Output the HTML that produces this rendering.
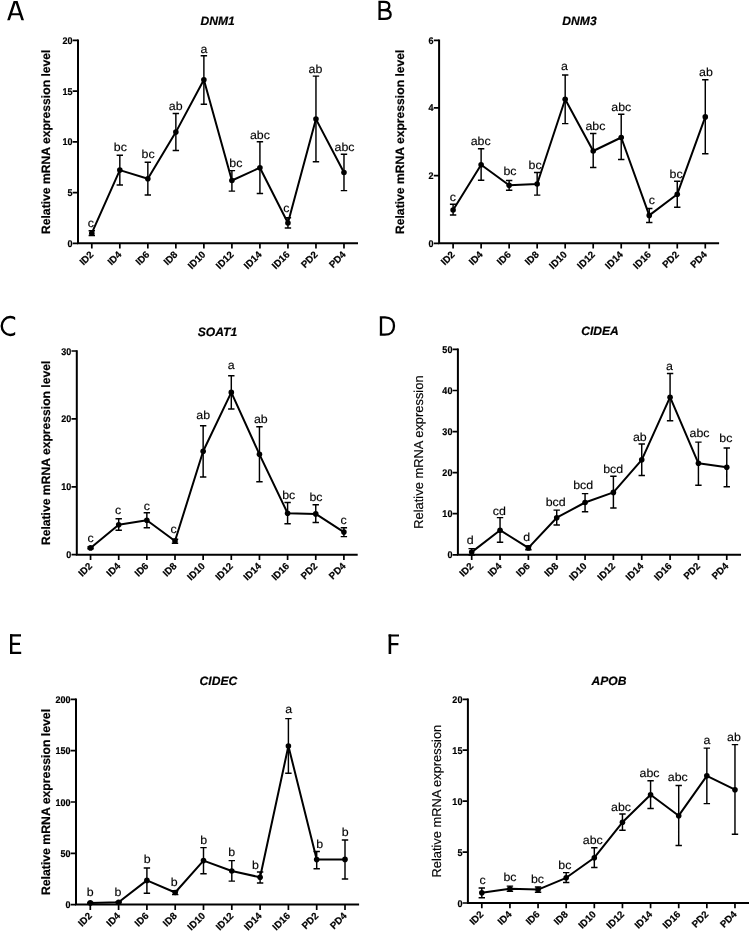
<!DOCTYPE html>
<html lang="en">
<head>
<meta charset="utf-8">
<title>Relative mRNA expression</title>
<style>
html,body{margin:0;padding:0;background:#fff;}
body{width:750px;height:931px;overflow:hidden;font-family:"Liberation Sans",sans-serif;}
svg{display:block;will-change:transform;text-rendering:geometricPrecision;}
</style>
</head>
<body>
<svg width="750" height="931" viewBox="0 0 750 931" font-family="'Liberation Sans', sans-serif" fill="#000">
<g id="panel-A">
<clipPath id="clA"><rect x="5" y="1" width="22" height="19.2"/></clipPath><g clip-path="url(#clA)" fill="none" stroke="#000"><polyline points="8.2,21.2 15.6,-1 23,21.2" stroke-width="2.5" stroke-linejoin="miter" stroke-miterlimit="10"/><path d="M11 14.2H20.2" stroke-width="2"/></g>
<path d="M78 39.45 V243.3 H358" fill="none" stroke="#000" stroke-width="2" stroke-linejoin="miter"/>
<text transform="translate(72.5 246.8) scale(0.93 1)" font-size="9.7" font-weight="bold" text-anchor="end" stroke="#000" stroke-width="0.2">0</text>
<text transform="translate(72.5 196.05) scale(0.93 1)" font-size="9.7" font-weight="bold" text-anchor="end" stroke="#000" stroke-width="0.2">5</text>
<text transform="translate(72.5 145.3) scale(0.93 1)" font-size="9.7" font-weight="bold" text-anchor="end" stroke="#000" stroke-width="0.2">10</text>
<text transform="translate(72.5 94.55) scale(0.93 1)" font-size="9.7" font-weight="bold" text-anchor="end" stroke="#000" stroke-width="0.2">15</text>
<text transform="translate(72.5 43.8) scale(0.93 1)" font-size="9.7" font-weight="bold" text-anchor="end" stroke="#000" stroke-width="0.2">20</text>
<text transform="translate(94.1 255.2) rotate(-45)" font-size="9.7" font-weight="bold" text-anchor="end" stroke="#000" stroke-width="0.2">ID2</text>
<text transform="translate(122.12 255.2) rotate(-45)" font-size="9.7" font-weight="bold" text-anchor="end" stroke="#000" stroke-width="0.2">ID4</text>
<text transform="translate(150.14 255.2) rotate(-45)" font-size="9.7" font-weight="bold" text-anchor="end" stroke="#000" stroke-width="0.2">ID6</text>
<text transform="translate(178.16 255.2) rotate(-45)" font-size="9.7" font-weight="bold" text-anchor="end" stroke="#000" stroke-width="0.2">ID8</text>
<text transform="translate(206.18 255.2) rotate(-45)" font-size="9.7" font-weight="bold" text-anchor="end" stroke="#000" stroke-width="0.2">ID10</text>
<text transform="translate(234.2 255.2) rotate(-45)" font-size="9.7" font-weight="bold" text-anchor="end" stroke="#000" stroke-width="0.2">ID12</text>
<text transform="translate(262.22 255.2) rotate(-45)" font-size="9.7" font-weight="bold" text-anchor="end" stroke="#000" stroke-width="0.2">ID14</text>
<text transform="translate(290.24 255.2) rotate(-45)" font-size="9.7" font-weight="bold" text-anchor="end" stroke="#000" stroke-width="0.2">ID16</text>
<text transform="translate(318.26 255.2) rotate(-45)" font-size="9.7" font-weight="bold" text-anchor="end" stroke="#000" stroke-width="0.2">PD2</text>
<text transform="translate(346.28 255.2) rotate(-45)" font-size="9.7" font-weight="bold" text-anchor="end" stroke="#000" stroke-width="0.2">PD4</text>
<path d="M78 243.3H72.7M78 192.55H72.7M78 141.8H72.7M78 91.05H72.7M78 40.3H72.7M91.8 243.3V248.6M119.82 243.3V248.6M147.84 243.3V248.6M175.86 243.3V248.6M203.88 243.3V248.6M231.9 243.3V248.6M259.92 243.3V248.6M287.94 243.3V248.6M315.96 243.3V248.6M343.98 243.3V248.6" fill="none" stroke="#000" stroke-width="1.7"/>
<text transform="translate(50.4 141.8) rotate(-90)" font-size="12.15" font-weight="bold" text-anchor="middle" stroke="#000" stroke-width="0.2">Relative mRNA expression level</text>
<text x="217.6" y="25.2" font-size="12.1" font-weight="bold" font-style="italic" text-anchor="middle" stroke="#000" stroke-width="0.2">DNM1</text>
<path d="M91.8 230.8V235.5M88.6 230.8H95M88.6 235.5H95M119.82 155.2V185M116.62 155.2H123.02M116.62 185H123.02M147.84 162.3V194.9M144.64 162.3H151.04M144.64 194.9H151.04M175.86 113.4V150.5M172.66 113.4H179.06M172.66 150.5H179.06M203.88 55.7V104.2M200.68 55.7H207.08M200.68 104.2H207.08M231.9 170.6V191.1M228.7 170.6H235.1M228.7 191.1H235.1M259.92 141.7V193.5M256.72 141.7H263.12M256.72 193.5H263.12M287.94 217.8V228M284.74 217.8H291.14M284.74 228H291.14M315.96 76.1V161.8M312.76 76.1H319.16M312.76 161.8H319.16M343.98 154.3V190.6M340.78 154.3H347.18M340.78 190.6H347.18" fill="none" stroke="#000" stroke-width="1.45"/>
<polyline points="91.8,233.2 119.82,170.1 147.84,178.8 175.86,132.1 203.88,79.8 231.9,180.5 259.92,167.7 287.94,223 315.96,119.1 343.98,172.5" fill="none" stroke="#000" stroke-width="2" stroke-linejoin="round"/>
<circle cx="91.8" cy="233.2" r="2.8"/>
<text transform="translate(90.9 226.6) scale(1.05 1)" font-size="11.8" text-anchor="middle" stroke="#000" stroke-width="0.15">c</text>
<circle cx="119.82" cy="170.1" r="2.8"/>
<text transform="translate(120.32 151.2) scale(1.05 1)" font-size="11.8" text-anchor="middle" stroke="#000" stroke-width="0.15">bc</text>
<circle cx="147.84" cy="178.8" r="2.8"/>
<text transform="translate(148.14 158.3) scale(1.05 1)" font-size="11.8" text-anchor="middle" stroke="#000" stroke-width="0.15">bc</text>
<circle cx="175.86" cy="132.1" r="2.8"/>
<text transform="translate(175.66 109.6) scale(1.05 1)" font-size="11.8" text-anchor="middle" stroke="#000" stroke-width="0.15">ab</text>
<circle cx="203.88" cy="79.8" r="2.8"/>
<text transform="translate(203.88 52.9) scale(1.05 1)" font-size="11.8" text-anchor="middle" stroke="#000" stroke-width="0.15">a</text>
<circle cx="231.9" cy="180.5" r="2.8"/>
<text transform="translate(235.9 167) scale(1.05 1)" font-size="11.8" text-anchor="middle" stroke="#000" stroke-width="0.15">bc</text>
<circle cx="259.92" cy="167.7" r="2.8"/>
<text transform="translate(259.92 138.7) scale(1.05 1)" font-size="11.8" text-anchor="middle" stroke="#000" stroke-width="0.15">abc</text>
<circle cx="287.94" cy="223" r="2.8"/>
<text transform="translate(286.24 212.4) scale(1.05 1)" font-size="11.8" text-anchor="middle" stroke="#000" stroke-width="0.15">c</text>
<circle cx="315.96" cy="119.1" r="2.8"/>
<text transform="translate(315.46 73) scale(1.05 1)" font-size="11.8" text-anchor="middle" stroke="#000" stroke-width="0.15">ab</text>
<circle cx="343.98" cy="172.5" r="2.8"/>
<text transform="translate(344.58 151) scale(1.05 1)" font-size="11.8" text-anchor="middle" stroke="#000" stroke-width="0.15">abc</text>
</g>
<g id="panel-B">
<path d="M379.6 0.8V20M378.4 1.9H384C387.3 1.9 389.3 3.4 389.3 5.8C389.3 8.4 387.2 10.2 383.8 10.2H379.6M383.8 10.2C388.2 10.2 390.65 11.9 390.65 14.5C390.65 17.3 388.4 18.9 384.4 18.9H378.4" fill="none" stroke="#000" stroke-width="2.3"/>
<path d="M439.1 39.45 V243.3 H719.1" fill="none" stroke="#000" stroke-width="2" stroke-linejoin="miter"/>
<text transform="translate(433.6 246.8) scale(0.93 1)" font-size="9.7" font-weight="bold" text-anchor="end" stroke="#000" stroke-width="0.2">0</text>
<text transform="translate(433.6 179.13) scale(0.93 1)" font-size="9.7" font-weight="bold" text-anchor="end" stroke="#000" stroke-width="0.2">2</text>
<text transform="translate(433.6 111.47) scale(0.93 1)" font-size="9.7" font-weight="bold" text-anchor="end" stroke="#000" stroke-width="0.2">4</text>
<text transform="translate(433.6 43.8) scale(0.93 1)" font-size="9.7" font-weight="bold" text-anchor="end" stroke="#000" stroke-width="0.2">6</text>
<text transform="translate(455.4 255.2) rotate(-45)" font-size="9.7" font-weight="bold" text-anchor="end" stroke="#000" stroke-width="0.2">ID2</text>
<text transform="translate(483.42 255.2) rotate(-45)" font-size="9.7" font-weight="bold" text-anchor="end" stroke="#000" stroke-width="0.2">ID4</text>
<text transform="translate(511.44 255.2) rotate(-45)" font-size="9.7" font-weight="bold" text-anchor="end" stroke="#000" stroke-width="0.2">ID6</text>
<text transform="translate(539.46 255.2) rotate(-45)" font-size="9.7" font-weight="bold" text-anchor="end" stroke="#000" stroke-width="0.2">ID8</text>
<text transform="translate(567.48 255.2) rotate(-45)" font-size="9.7" font-weight="bold" text-anchor="end" stroke="#000" stroke-width="0.2">ID10</text>
<text transform="translate(595.5 255.2) rotate(-45)" font-size="9.7" font-weight="bold" text-anchor="end" stroke="#000" stroke-width="0.2">ID12</text>
<text transform="translate(623.52 255.2) rotate(-45)" font-size="9.7" font-weight="bold" text-anchor="end" stroke="#000" stroke-width="0.2">ID14</text>
<text transform="translate(651.54 255.2) rotate(-45)" font-size="9.7" font-weight="bold" text-anchor="end" stroke="#000" stroke-width="0.2">ID16</text>
<text transform="translate(679.56 255.2) rotate(-45)" font-size="9.7" font-weight="bold" text-anchor="end" stroke="#000" stroke-width="0.2">PD2</text>
<text transform="translate(707.58 255.2) rotate(-45)" font-size="9.7" font-weight="bold" text-anchor="end" stroke="#000" stroke-width="0.2">PD4</text>
<path d="M439.1 243.3H433.8M439.1 175.63H433.8M439.1 107.97H433.8M439.1 40.3H433.8M453.1 243.3V248.6M481.12 243.3V248.6M509.14 243.3V248.6M537.16 243.3V248.6M565.18 243.3V248.6M593.2 243.3V248.6M621.22 243.3V248.6M649.24 243.3V248.6M677.26 243.3V248.6M705.28 243.3V248.6" fill="none" stroke="#000" stroke-width="1.7"/>
<text transform="translate(404 141.8) rotate(-90)" font-size="12.15" font-weight="bold" text-anchor="middle" stroke="#000" stroke-width="0.2">Relative mRNA expression level</text>
<text x="579.5" y="25.2" font-size="12.1" font-weight="bold" font-style="italic" text-anchor="middle" stroke="#000" stroke-width="0.2">DNM3</text>
<path d="M453.1 204.3V215M449.9 204.3H456.3M449.9 215H456.3M481.12 148.8V180.2M477.92 148.8H484.32M477.92 180.2H484.32M509.14 180.5V190.2M505.94 180.5H512.34M505.94 190.2H512.34M537.16 172.5V195.1M533.96 172.5H540.36M533.96 195.1H540.36M565.18 74.9V123.6M561.98 74.9H568.38M561.98 123.6H568.38M593.2 133.5V167.5M590 133.5H596.4M590 167.5H596.4M621.22 114.3V159.5M618.02 114.3H624.42M618.02 159.5H624.42M649.24 208.4V222.5M646.04 208.4H652.44M646.04 222.5H652.44M677.26 181.2V207.2M674.06 181.2H680.46M674.06 207.2H680.46M705.28 79.8V153.8M702.08 79.8H708.48M702.08 153.8H708.48" fill="none" stroke="#000" stroke-width="1.45"/>
<polyline points="453.1,210 481.12,164.7 509.14,185.2 537.16,184 565.18,99.2 593.2,151 621.22,137.5 649.24,215.4 677.26,194.2 705.28,116.9" fill="none" stroke="#000" stroke-width="2" stroke-linejoin="round"/>
<circle cx="453.1" cy="210" r="2.8"/>
<text transform="translate(452.8 200.6) scale(1.05 1)" font-size="11.8" text-anchor="middle" stroke="#000" stroke-width="0.15">c</text>
<circle cx="481.12" cy="164.7" r="2.8"/>
<text transform="translate(480.72 145.3) scale(1.05 1)" font-size="11.8" text-anchor="middle" stroke="#000" stroke-width="0.15">abc</text>
<circle cx="509.14" cy="185.2" r="2.8"/>
<text transform="translate(509.94 174.6) scale(1.05 1)" font-size="11.8" text-anchor="middle" stroke="#000" stroke-width="0.15">bc</text>
<circle cx="537.16" cy="184" r="2.8"/>
<text transform="translate(535.06 168.9) scale(1.05 1)" font-size="11.8" text-anchor="middle" stroke="#000" stroke-width="0.15">bc</text>
<circle cx="565.18" cy="99.2" r="2.8"/>
<text transform="translate(564.48 69.5) scale(1.05 1)" font-size="11.8" text-anchor="middle" stroke="#000" stroke-width="0.15">a</text>
<circle cx="593.2" cy="151" r="2.8"/>
<text transform="translate(595.4 130.4) scale(1.05 1)" font-size="11.8" text-anchor="middle" stroke="#000" stroke-width="0.15">abc</text>
<circle cx="621.22" cy="137.5" r="2.8"/>
<text transform="translate(621.32 110.8) scale(1.05 1)" font-size="11.8" text-anchor="middle" stroke="#000" stroke-width="0.15">abc</text>
<circle cx="649.24" cy="215.4" r="2.8"/>
<text transform="translate(651.84 204.1) scale(1.05 1)" font-size="11.8" text-anchor="middle" stroke="#000" stroke-width="0.15">c</text>
<circle cx="677.26" cy="194.2" r="2.8"/>
<text transform="translate(676.06 177.6) scale(1.05 1)" font-size="11.8" text-anchor="middle" stroke="#000" stroke-width="0.15">bc</text>
<circle cx="705.28" cy="116.9" r="2.8"/>
<text transform="translate(705.88 75.6) scale(1.05 1)" font-size="11.8" text-anchor="middle" stroke="#000" stroke-width="0.15">ab</text>
</g>
<g id="panel-C">
<clipPath id="clC"><rect x="0" y="314" width="15.2" height="24"/></clipPath><path clip-path="url(#clC)" d="M16.2 319.4A8.6 9 0 1 0 16.2 332.6" fill="none" stroke="#000" stroke-width="2.4"/>
<path d="M76.8 350.15 V554.7 H357.7" fill="none" stroke="#000" stroke-width="2" stroke-linejoin="miter"/>
<text transform="translate(71.3 558.2) scale(0.93 1)" font-size="9.7" font-weight="bold" text-anchor="end" stroke="#000" stroke-width="0.2">0</text>
<text transform="translate(71.3 490.3) scale(0.93 1)" font-size="9.7" font-weight="bold" text-anchor="end" stroke="#000" stroke-width="0.2">10</text>
<text transform="translate(71.3 422.4) scale(0.93 1)" font-size="9.7" font-weight="bold" text-anchor="end" stroke="#000" stroke-width="0.2">20</text>
<text transform="translate(71.3 354.5) scale(0.93 1)" font-size="9.7" font-weight="bold" text-anchor="end" stroke="#000" stroke-width="0.2">30</text>
<text transform="translate(92.85 566.6) rotate(-45)" font-size="9.7" font-weight="bold" text-anchor="end" stroke="#000" stroke-width="0.2">ID2</text>
<text transform="translate(121 566.6) rotate(-45)" font-size="9.7" font-weight="bold" text-anchor="end" stroke="#000" stroke-width="0.2">ID4</text>
<text transform="translate(149.15 566.6) rotate(-45)" font-size="9.7" font-weight="bold" text-anchor="end" stroke="#000" stroke-width="0.2">ID6</text>
<text transform="translate(177.3 566.6) rotate(-45)" font-size="9.7" font-weight="bold" text-anchor="end" stroke="#000" stroke-width="0.2">ID8</text>
<text transform="translate(205.45 566.6) rotate(-45)" font-size="9.7" font-weight="bold" text-anchor="end" stroke="#000" stroke-width="0.2">ID10</text>
<text transform="translate(233.6 566.6) rotate(-45)" font-size="9.7" font-weight="bold" text-anchor="end" stroke="#000" stroke-width="0.2">ID12</text>
<text transform="translate(261.75 566.6) rotate(-45)" font-size="9.7" font-weight="bold" text-anchor="end" stroke="#000" stroke-width="0.2">ID14</text>
<text transform="translate(289.9 566.6) rotate(-45)" font-size="9.7" font-weight="bold" text-anchor="end" stroke="#000" stroke-width="0.2">ID16</text>
<text transform="translate(318.05 566.6) rotate(-45)" font-size="9.7" font-weight="bold" text-anchor="end" stroke="#000" stroke-width="0.2">PD2</text>
<text transform="translate(346.2 566.6) rotate(-45)" font-size="9.7" font-weight="bold" text-anchor="end" stroke="#000" stroke-width="0.2">PD4</text>
<path d="M76.8 554.7H71.5M76.8 486.8H71.5M76.8 418.9H71.5M76.8 351H71.5M90.55 554.7V560M118.7 554.7V560M146.85 554.7V560M175 554.7V560M203.15 554.7V560M231.3 554.7V560M259.45 554.7V560M287.6 554.7V560M315.75 554.7V560M343.9 554.7V560" fill="none" stroke="#000" stroke-width="1.7"/>
<text transform="translate(50.4 452.85) rotate(-90)" font-size="12.15" font-weight="bold" text-anchor="middle" stroke="#000" stroke-width="0.2">Relative mRNA expression level</text>
<text x="217.5" y="336.3" font-size="12.1" font-weight="bold" font-style="italic" text-anchor="middle" stroke="#000" stroke-width="0.2">SOAT1</text>
<path d="M90.55 547V548.8M87.35 547H93.75M87.35 548.8H93.75M118.7 518.8V530.2M115.5 518.8H121.9M115.5 530.2H121.9M146.85 512.7V527.8M143.65 512.7H150.05M143.65 527.8H150.05M175 539.2V543.2M171.8 539.2H178.2M171.8 543.2H178.2M203.15 425.8V477M199.95 425.8H206.35M199.95 477H206.35M231.3 375.7V409M228.1 375.7H234.5M228.1 409H234.5M259.45 426.7V481.7M256.25 426.7H262.65M256.25 481.7H262.65M287.6 502.5V523.8M284.4 502.5H290.8M284.4 523.8H290.8M315.75 504.7V522.4M312.55 504.7H318.95M312.55 522.4H318.95M343.9 527.8V536.6M340.7 527.8H347.1M340.7 536.6H347.1" fill="none" stroke="#000" stroke-width="1.45"/>
<polyline points="90.55,547.9 118.7,524.7 146.85,520.3 175,541 203.15,451.3 231.3,392.4 259.45,454.3 287.6,513.2 315.75,513.9 343.9,532.1" fill="none" stroke="#000" stroke-width="2" stroke-linejoin="round"/>
<circle cx="90.55" cy="547.9" r="2.8"/>
<text transform="translate(90.55 542) scale(1.05 1)" font-size="11.8" text-anchor="middle" stroke="#000" stroke-width="0.15">c</text>
<circle cx="118.7" cy="524.7" r="2.8"/>
<text transform="translate(118.2 514.3) scale(1.05 1)" font-size="11.8" text-anchor="middle" stroke="#000" stroke-width="0.15">c</text>
<circle cx="146.85" cy="520.3" r="2.8"/>
<text transform="translate(146.85 510.1) scale(1.05 1)" font-size="11.8" text-anchor="middle" stroke="#000" stroke-width="0.15">c</text>
<circle cx="175" cy="541" r="2.8"/>
<text transform="translate(173.5 533) scale(1.05 1)" font-size="11.8" text-anchor="middle" stroke="#000" stroke-width="0.15">c</text>
<circle cx="203.15" cy="451.3" r="2.8"/>
<text transform="translate(203.15 418.7) scale(1.05 1)" font-size="11.8" text-anchor="middle" stroke="#000" stroke-width="0.15">ab</text>
<circle cx="231.3" cy="392.4" r="2.8"/>
<text transform="translate(231.3 368.8) scale(1.05 1)" font-size="11.8" text-anchor="middle" stroke="#000" stroke-width="0.15">a</text>
<circle cx="259.45" cy="454.3" r="2.8"/>
<text transform="translate(260.85 422.7) scale(1.05 1)" font-size="11.8" text-anchor="middle" stroke="#000" stroke-width="0.15">ab</text>
<circle cx="287.6" cy="513.2" r="2.8"/>
<text transform="translate(288.7 498.8) scale(1.05 1)" font-size="11.8" text-anchor="middle" stroke="#000" stroke-width="0.15">bc</text>
<circle cx="315.75" cy="513.9" r="2.8"/>
<text transform="translate(315.95 501.1) scale(1.05 1)" font-size="11.8" text-anchor="middle" stroke="#000" stroke-width="0.15">bc</text>
<circle cx="343.9" cy="532.1" r="2.8"/>
<text transform="translate(343.7 524.3) scale(1.05 1)" font-size="11.8" text-anchor="middle" stroke="#000" stroke-width="0.15">c</text>
</g>
<g id="panel-D">
<path d="M381 316.2V335.8M379.8 317.3H385C390.6 317.3 394 320.6 394 325.9C394 331.4 390.6 334.7 384.8 334.7H379.8" fill="none" stroke="#000" stroke-width="2.3"/>
<path d="M457.9 348.55 V554.8 H741" fill="none" stroke="#000" stroke-width="2" stroke-linejoin="miter"/>
<text transform="translate(452.4 558.3) scale(0.93 1)" font-size="9.7" font-weight="bold" text-anchor="end" stroke="#000" stroke-width="0.2">0</text>
<text transform="translate(452.4 517.22) scale(0.93 1)" font-size="9.7" font-weight="bold" text-anchor="end" stroke="#000" stroke-width="0.2">10</text>
<text transform="translate(452.4 476.14) scale(0.93 1)" font-size="9.7" font-weight="bold" text-anchor="end" stroke="#000" stroke-width="0.2">20</text>
<text transform="translate(452.4 435.06) scale(0.93 1)" font-size="9.7" font-weight="bold" text-anchor="end" stroke="#000" stroke-width="0.2">30</text>
<text transform="translate(452.4 393.98) scale(0.93 1)" font-size="9.7" font-weight="bold" text-anchor="end" stroke="#000" stroke-width="0.2">40</text>
<text transform="translate(452.4 352.9) scale(0.93 1)" font-size="9.7" font-weight="bold" text-anchor="end" stroke="#000" stroke-width="0.2">50</text>
<text transform="translate(474 566.7) rotate(-45)" font-size="9.7" font-weight="bold" text-anchor="end" stroke="#000" stroke-width="0.2">ID2</text>
<text transform="translate(502.34 566.7) rotate(-45)" font-size="9.7" font-weight="bold" text-anchor="end" stroke="#000" stroke-width="0.2">ID4</text>
<text transform="translate(530.68 566.7) rotate(-45)" font-size="9.7" font-weight="bold" text-anchor="end" stroke="#000" stroke-width="0.2">ID6</text>
<text transform="translate(559.02 566.7) rotate(-45)" font-size="9.7" font-weight="bold" text-anchor="end" stroke="#000" stroke-width="0.2">ID8</text>
<text transform="translate(587.36 566.7) rotate(-45)" font-size="9.7" font-weight="bold" text-anchor="end" stroke="#000" stroke-width="0.2">ID10</text>
<text transform="translate(615.7 566.7) rotate(-45)" font-size="9.7" font-weight="bold" text-anchor="end" stroke="#000" stroke-width="0.2">ID12</text>
<text transform="translate(644.04 566.7) rotate(-45)" font-size="9.7" font-weight="bold" text-anchor="end" stroke="#000" stroke-width="0.2">ID14</text>
<text transform="translate(672.38 566.7) rotate(-45)" font-size="9.7" font-weight="bold" text-anchor="end" stroke="#000" stroke-width="0.2">ID16</text>
<text transform="translate(700.72 566.7) rotate(-45)" font-size="9.7" font-weight="bold" text-anchor="end" stroke="#000" stroke-width="0.2">PD2</text>
<text transform="translate(729.06 566.7) rotate(-45)" font-size="9.7" font-weight="bold" text-anchor="end" stroke="#000" stroke-width="0.2">PD4</text>
<path d="M457.9 554.8H452.6M457.9 513.72H452.6M457.9 472.64H452.6M457.9 431.56H452.6M457.9 390.48H452.6M457.9 349.4H452.6M471.7 554.8V560.1M500.04 554.8V560.1M528.38 554.8V560.1M556.72 554.8V560.1M585.06 554.8V560.1M613.4 554.8V560.1M641.74 554.8V560.1M670.08 554.8V560.1M698.42 554.8V560.1M726.76 554.8V560.1" fill="none" stroke="#000" stroke-width="1.7"/>
<text transform="translate(423.1 452.1) rotate(-90)" font-size="12.9" text-anchor="middle" stroke="#000" stroke-width="0.15">Relative mRNA expression</text>
<text x="600" y="334.7" font-size="12.1" font-weight="bold" font-style="italic" text-anchor="middle" stroke="#000" stroke-width="0.2">CIDEA</text>
<path d="M471.7 548.6V555M468.5 548.6H474.9M468.5 555H474.9M500.04 517.6V542.2M496.84 517.6H503.24M496.84 542.2H503.24M528.38 546V549.8M525.18 546H531.58M525.18 549.8H531.58M556.72 510.1V525M553.52 510.1H559.92M553.52 525H559.92M585.06 493.6V511.7M581.86 493.6H588.26M581.86 511.7H588.26M613.4 476.3V508M610.2 476.3H616.6M610.2 508H616.6M641.74 443.9V475.4M638.54 443.9H644.94M638.54 475.4H644.94M670.08 373.5V420.8M666.88 373.5H673.28M666.88 420.8H673.28M698.42 442.1V485.3M695.22 442.1H701.62M695.22 485.3H701.62M726.76 448V486.7M723.56 448H729.96M723.56 486.7H729.96" fill="none" stroke="#000" stroke-width="1.45"/>
<polyline points="471.7,552.1 500.04,530.2 528.38,547.9 556.72,517.7 585.06,502.5 613.4,492.4 641.74,459.8 670.08,397.2 698.42,463.3 726.76,467.3" fill="none" stroke="#000" stroke-width="2" stroke-linejoin="round"/>
<circle cx="471.7" cy="552.1" r="2.8"/>
<text transform="translate(470.3 543.6) scale(1.05 1)" font-size="11.8" text-anchor="middle" stroke="#000" stroke-width="0.15">d</text>
<circle cx="500.04" cy="530.2" r="2.8"/>
<text transform="translate(499.34 514.8) scale(1.05 1)" font-size="11.8" text-anchor="middle" stroke="#000" stroke-width="0.15">cd</text>
<circle cx="528.38" cy="547.9" r="2.8"/>
<text transform="translate(526.68 540.8) scale(1.05 1)" font-size="11.8" text-anchor="middle" stroke="#000" stroke-width="0.15">d</text>
<circle cx="556.72" cy="517.7" r="2.8"/>
<text transform="translate(555.62 506.1) scale(1.05 1)" font-size="11.8" text-anchor="middle" stroke="#000" stroke-width="0.15">bcd</text>
<circle cx="585.06" cy="502.5" r="2.8"/>
<text transform="translate(583.16 489.3) scale(1.05 1)" font-size="11.8" text-anchor="middle" stroke="#000" stroke-width="0.15">bcd</text>
<circle cx="613.4" cy="492.4" r="2.8"/>
<text transform="translate(613.2 472.8) scale(1.05 1)" font-size="11.8" text-anchor="middle" stroke="#000" stroke-width="0.15">bcd</text>
<circle cx="641.74" cy="459.8" r="2.8"/>
<text transform="translate(639.84 440.9) scale(1.05 1)" font-size="11.8" text-anchor="middle" stroke="#000" stroke-width="0.15">ab</text>
<circle cx="670.08" cy="397.2" r="2.8"/>
<text transform="translate(669.38 370) scale(1.05 1)" font-size="11.8" text-anchor="middle" stroke="#000" stroke-width="0.15">a</text>
<circle cx="698.42" cy="463.3" r="2.8"/>
<text transform="translate(699.52 436.9) scale(1.05 1)" font-size="11.8" text-anchor="middle" stroke="#000" stroke-width="0.15">abc</text>
<circle cx="726.76" cy="467.3" r="2.8"/>
<text transform="translate(725.86 442.1) scale(1.05 1)" font-size="11.8" text-anchor="middle" stroke="#000" stroke-width="0.15">bc</text>
</g>
<g id="panel-E">
<path d="M11.2 634.2V654" fill="none" stroke="#000" stroke-width="2.4"/><path d="M10 635.3H21M11 643.8H20M10 652.9H21.2" fill="none" stroke="#000" stroke-width="2.2"/>
<path d="M76 698.55 V904.6 H359.1" fill="none" stroke="#000" stroke-width="2" stroke-linejoin="miter"/>
<text transform="translate(70.5 908.1) scale(0.93 1)" font-size="9.7" font-weight="bold" text-anchor="end" stroke="#000" stroke-width="0.2">0</text>
<text transform="translate(70.5 856.8) scale(0.93 1)" font-size="9.7" font-weight="bold" text-anchor="end" stroke="#000" stroke-width="0.2">50</text>
<text transform="translate(70.5 805.5) scale(0.93 1)" font-size="9.7" font-weight="bold" text-anchor="end" stroke="#000" stroke-width="0.2">100</text>
<text transform="translate(70.5 754.2) scale(0.93 1)" font-size="9.7" font-weight="bold" text-anchor="end" stroke="#000" stroke-width="0.2">150</text>
<text transform="translate(70.5 702.9) scale(0.93 1)" font-size="9.7" font-weight="bold" text-anchor="end" stroke="#000" stroke-width="0.2">200</text>
<text transform="translate(92.6 916.5) rotate(-45)" font-size="9.7" font-weight="bold" text-anchor="end" stroke="#000" stroke-width="0.2">ID2</text>
<text transform="translate(120.9 916.5) rotate(-45)" font-size="9.7" font-weight="bold" text-anchor="end" stroke="#000" stroke-width="0.2">ID4</text>
<text transform="translate(149.2 916.5) rotate(-45)" font-size="9.7" font-weight="bold" text-anchor="end" stroke="#000" stroke-width="0.2">ID6</text>
<text transform="translate(177.5 916.5) rotate(-45)" font-size="9.7" font-weight="bold" text-anchor="end" stroke="#000" stroke-width="0.2">ID8</text>
<text transform="translate(205.8 916.5) rotate(-45)" font-size="9.7" font-weight="bold" text-anchor="end" stroke="#000" stroke-width="0.2">ID10</text>
<text transform="translate(234.1 916.5) rotate(-45)" font-size="9.7" font-weight="bold" text-anchor="end" stroke="#000" stroke-width="0.2">ID12</text>
<text transform="translate(262.4 916.5) rotate(-45)" font-size="9.7" font-weight="bold" text-anchor="end" stroke="#000" stroke-width="0.2">ID14</text>
<text transform="translate(290.7 916.5) rotate(-45)" font-size="9.7" font-weight="bold" text-anchor="end" stroke="#000" stroke-width="0.2">ID16</text>
<text transform="translate(319 916.5) rotate(-45)" font-size="9.7" font-weight="bold" text-anchor="end" stroke="#000" stroke-width="0.2">PD2</text>
<text transform="translate(347.3 916.5) rotate(-45)" font-size="9.7" font-weight="bold" text-anchor="end" stroke="#000" stroke-width="0.2">PD4</text>
<path d="M76 904.6H70.7M76 853.3H70.7M76 802H70.7M76 750.7H70.7M76 699.4H70.7M90.3 904.6V909.9M118.6 904.6V909.9M146.9 904.6V909.9M175.2 904.6V909.9M203.5 904.6V909.9M231.8 904.6V909.9M260.1 904.6V909.9M288.4 904.6V909.9M316.7 904.6V909.9M345 904.6V909.9" fill="none" stroke="#000" stroke-width="1.7"/>
<text transform="translate(49.5 802) rotate(-90)" font-size="12.25" font-weight="bold" text-anchor="middle" stroke="#000" stroke-width="0.2">Relative mRNA expression level</text>
<text x="218.4" y="684.5" font-size="12.1" font-weight="bold" font-style="italic" text-anchor="middle" stroke="#000" stroke-width="0.2">CIDEC</text>
<path d="M90.3 902.5V903.3M87.1 902.5H93.5M87.1 903.3H93.5M118.6 901.6V902.8M115.4 901.6H121.8M115.4 902.8H121.8M146.9 867.9V893.2M143.7 867.9H150.1M143.7 893.2H150.1M175.2 890.8V894.6M172 890.8H178.4M172 894.6H178.4M203.5 847.6V873.8M200.3 847.6H206.7M200.3 873.8H206.7M231.8 860.6V881.1M228.6 860.6H235M228.6 881.1H235M260.1 871.9V883M256.9 871.9H263.3M256.9 883H263.3M288.4 718.6V773.2M285.2 718.6H291.6M285.2 773.2H291.6M316.7 851.4V868.8M313.5 851.4H319.9M313.5 868.8H319.9M345 840V879M341.8 840H348.2M341.8 879H348.2" fill="none" stroke="#000" stroke-width="1.45"/>
<polyline points="90.3,902.9 118.6,902.2 146.9,880.4 175.2,892.5 203.5,860.6 231.8,871 260.1,877.3 288.4,746 316.7,859.6 345,859.4" fill="none" stroke="#000" stroke-width="2" stroke-linejoin="round"/>
<circle cx="90.3" cy="902.9" r="2.8"/>
<text transform="translate(90.1 896.2) scale(1.05 1)" font-size="11.8" text-anchor="middle" stroke="#000" stroke-width="0.15">b</text>
<circle cx="118.6" cy="902.2" r="2.8"/>
<text transform="translate(117.9 895.7) scale(1.05 1)" font-size="11.8" text-anchor="middle" stroke="#000" stroke-width="0.15">b</text>
<circle cx="146.9" cy="880.4" r="2.8"/>
<text transform="translate(147.3 862.5) scale(1.05 1)" font-size="11.8" text-anchor="middle" stroke="#000" stroke-width="0.15">b</text>
<circle cx="175.2" cy="892.5" r="2.8"/>
<text transform="translate(174.3 886.1) scale(1.05 1)" font-size="11.8" text-anchor="middle" stroke="#000" stroke-width="0.15">b</text>
<circle cx="203.5" cy="860.6" r="2.8"/>
<text transform="translate(203.6 843.6) scale(1.05 1)" font-size="11.8" text-anchor="middle" stroke="#000" stroke-width="0.15">b</text>
<circle cx="231.8" cy="871" r="2.8"/>
<text transform="translate(231.6 856.1) scale(1.05 1)" font-size="11.8" text-anchor="middle" stroke="#000" stroke-width="0.15">b</text>
<circle cx="260.1" cy="877.3" r="2.8"/>
<text transform="translate(255.5 868.8) scale(1.05 1)" font-size="11.8" text-anchor="middle" stroke="#000" stroke-width="0.15">b</text>
<circle cx="288.4" cy="746" r="2.8"/>
<text transform="translate(288.6 712.9) scale(1.05 1)" font-size="11.8" text-anchor="middle" stroke="#000" stroke-width="0.15">a</text>
<circle cx="316.7" cy="859.6" r="2.8"/>
<text transform="translate(319.8 847.6) scale(1.05 1)" font-size="11.8" text-anchor="middle" stroke="#000" stroke-width="0.15">b</text>
<circle cx="345" cy="859.4" r="2.8"/>
<text transform="translate(345.3 836) scale(1.05 1)" font-size="11.8" text-anchor="middle" stroke="#000" stroke-width="0.15">b</text>
</g>
<g id="panel-F">
<path d="M389.9 634.4V654" fill="none" stroke="#000" stroke-width="2.6"/><path d="M388.6 635.5H399M389 644.2H398.4" fill="none" stroke="#000" stroke-width="2.2"/>
<path d="M467.9 698.45 V903 H749" fill="none" stroke="#000" stroke-width="2" stroke-linejoin="miter"/>
<text transform="translate(462.4 906.5) scale(0.93 1)" font-size="9.7" font-weight="bold" text-anchor="end" stroke="#000" stroke-width="0.2">0</text>
<text transform="translate(462.4 855.58) scale(0.93 1)" font-size="9.7" font-weight="bold" text-anchor="end" stroke="#000" stroke-width="0.2">5</text>
<text transform="translate(462.4 804.65) scale(0.93 1)" font-size="9.7" font-weight="bold" text-anchor="end" stroke="#000" stroke-width="0.2">10</text>
<text transform="translate(462.4 753.72) scale(0.93 1)" font-size="9.7" font-weight="bold" text-anchor="end" stroke="#000" stroke-width="0.2">15</text>
<text transform="translate(462.4 702.8) scale(0.93 1)" font-size="9.7" font-weight="bold" text-anchor="end" stroke="#000" stroke-width="0.2">20</text>
<text transform="translate(484.1 914.9) rotate(-45)" font-size="9.7" font-weight="bold" text-anchor="end" stroke="#000" stroke-width="0.2">ID2</text>
<text transform="translate(512.23 914.9) rotate(-45)" font-size="9.7" font-weight="bold" text-anchor="end" stroke="#000" stroke-width="0.2">ID4</text>
<text transform="translate(540.36 914.9) rotate(-45)" font-size="9.7" font-weight="bold" text-anchor="end" stroke="#000" stroke-width="0.2">ID6</text>
<text transform="translate(568.49 914.9) rotate(-45)" font-size="9.7" font-weight="bold" text-anchor="end" stroke="#000" stroke-width="0.2">ID8</text>
<text transform="translate(596.62 914.9) rotate(-45)" font-size="9.7" font-weight="bold" text-anchor="end" stroke="#000" stroke-width="0.2">ID10</text>
<text transform="translate(624.75 914.9) rotate(-45)" font-size="9.7" font-weight="bold" text-anchor="end" stroke="#000" stroke-width="0.2">ID12</text>
<text transform="translate(652.88 914.9) rotate(-45)" font-size="9.7" font-weight="bold" text-anchor="end" stroke="#000" stroke-width="0.2">ID14</text>
<text transform="translate(681.01 914.9) rotate(-45)" font-size="9.7" font-weight="bold" text-anchor="end" stroke="#000" stroke-width="0.2">ID16</text>
<text transform="translate(709.14 914.9) rotate(-45)" font-size="9.7" font-weight="bold" text-anchor="end" stroke="#000" stroke-width="0.2">PD2</text>
<text transform="translate(737.27 914.9) rotate(-45)" font-size="9.7" font-weight="bold" text-anchor="end" stroke="#000" stroke-width="0.2">PD4</text>
<path d="M467.9 903H462.6M467.9 852.08H462.6M467.9 801.15H462.6M467.9 750.22H462.6M467.9 699.3H462.6M481.8 903V908.3M509.93 903V908.3M538.06 903V908.3M566.19 903V908.3M594.32 903V908.3M622.45 903V908.3M650.58 903V908.3M678.71 903V908.3M706.84 903V908.3M734.97 903V908.3" fill="none" stroke="#000" stroke-width="1.7"/>
<text transform="translate(440.9 801.15) rotate(-90)" font-size="12.85" text-anchor="middle" stroke="#000" stroke-width="0.15">Relative mRNA expression</text>
<text x="608.9" y="684.5" font-size="12.1" font-weight="bold" font-style="italic" text-anchor="middle" stroke="#000" stroke-width="0.2">APOB</text>
<path d="M481.8 888V897.7M478.6 888H485M478.6 897.7H485M509.93 886.1V891.3M506.73 886.1H513.13M506.73 891.3H513.13M538.06 887V892.2M534.86 887H541.26M534.86 892.2H541.26M566.19 872.6V882.5M562.99 872.6H569.39M562.99 882.5H569.39M594.32 847.8V867.4M591.12 847.8H597.52M591.12 867.4H597.52M622.45 814V830.3M619.25 814H625.65M619.25 830.3H625.65M650.58 780.7V808.4M647.38 780.7H653.78M647.38 808.4H653.78M678.71 785.4V845.4M675.51 785.4H681.91M675.51 845.4H681.91M706.84 748.1V803.6M703.64 748.1H710.04M703.64 803.6H710.04M734.97 744.6V834.3M731.77 744.6H738.17M731.77 834.3H738.17" fill="none" stroke="#000" stroke-width="1.45"/>
<polyline points="481.8,892.7 509.93,888.7 538.06,889.6 566.19,877.8 594.32,857.7 622.45,822.3 650.58,794.7 678.71,815.7 706.84,775.8 734.97,789.7" fill="none" stroke="#000" stroke-width="2" stroke-linejoin="round"/>
<circle cx="481.8" cy="892.7" r="2.8"/>
<text transform="translate(482.5 884.2) scale(1.05 1)" font-size="11.8" text-anchor="middle" stroke="#000" stroke-width="0.15">c</text>
<circle cx="509.93" cy="888.7" r="2.8"/>
<text transform="translate(509.93 881.4) scale(1.05 1)" font-size="11.8" text-anchor="middle" stroke="#000" stroke-width="0.15">bc</text>
<circle cx="538.06" cy="889.6" r="2.8"/>
<text transform="translate(537.46 883) scale(1.05 1)" font-size="11.8" text-anchor="middle" stroke="#000" stroke-width="0.15">bc</text>
<circle cx="566.19" cy="877.8" r="2.8"/>
<text transform="translate(564.89 868.8) scale(1.05 1)" font-size="11.8" text-anchor="middle" stroke="#000" stroke-width="0.15">bc</text>
<circle cx="594.32" cy="857.7" r="2.8"/>
<text transform="translate(592.82 844) scale(1.05 1)" font-size="11.8" text-anchor="middle" stroke="#000" stroke-width="0.15">abc</text>
<circle cx="622.45" cy="822.3" r="2.8"/>
<text transform="translate(621.05 810.5) scale(1.05 1)" font-size="11.8" text-anchor="middle" stroke="#000" stroke-width="0.15">abc</text>
<circle cx="650.58" cy="794.7" r="2.8"/>
<text transform="translate(649.48 777.4) scale(1.05 1)" font-size="11.8" text-anchor="middle" stroke="#000" stroke-width="0.15">abc</text>
<circle cx="678.71" cy="815.7" r="2.8"/>
<text transform="translate(677.81 781.4) scale(1.05 1)" font-size="11.8" text-anchor="middle" stroke="#000" stroke-width="0.15">abc</text>
<circle cx="706.84" cy="775.8" r="2.8"/>
<text transform="translate(706.84 743.9) scale(1.05 1)" font-size="11.8" text-anchor="middle" stroke="#000" stroke-width="0.15">a</text>
<circle cx="734.97" cy="789.7" r="2.8"/>
<text transform="translate(733.97 741.3) scale(1.05 1)" font-size="11.8" text-anchor="middle" stroke="#000" stroke-width="0.15">ab</text>
</g>
</svg>
</body>
</html>
